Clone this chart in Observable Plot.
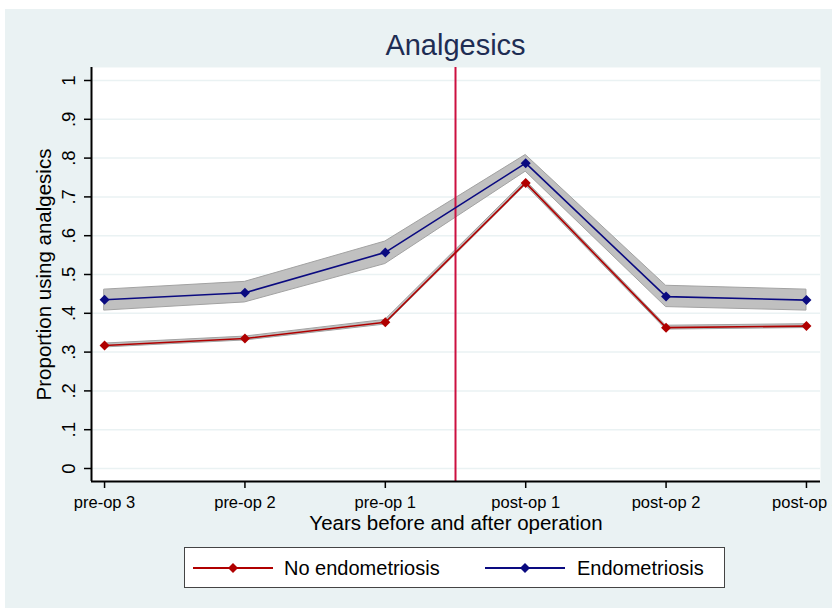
<!DOCTYPE html>
<html><head><meta charset="utf-8">
<script src="https://cdn.jsdelivr.net/npm/d3@7"></script>
<script src="https://cdn.jsdelivr.net/npm/@observablehq/plot@0.6"></script>
<style>
html,body{margin:0;padding:0;background:#fff;overflow:hidden;font-family:"Liberation Sans",Arial,sans-serif;}
#page{position:absolute;left:5px;top:9px;width:827px;height:599px;background:#eaf2f3;}
#chart{position:absolute;left:0;top:0;}
#title{position:absolute;left:0;width:911px;top:31px;text-align:center;font-size:29px;line-height:29px;color:#1e2d53;}
#legend{position:absolute;left:184px;top:547px;width:541px;height:41px;box-sizing:border-box;border:1px solid #444;background:#fff;}
#legend .sw{position:absolute;top:0;width:80px;height:39px;}
#legend .lab{position:absolute;top:10px;font-size:20px;line-height:20px;color:#000;white-space:nowrap;}
</style></head>
<body>
<div id="page"></div>
<div id="chart"></div>
<div id="title">Analgesics</div>
<div id="legend"></div>
<script>
const periods = ["pre-op 3","pre-op 2","pre-op 1","post-op 1","post-op 2","post-op 3"];
const xPos = [1,2,3,4,5,6];
const endoMean = [0.435,0.453,0.557,0.787,0.443,0.434];
const endoLow  = [0.407,0.428,0.527,0.765,0.416,0.407];
const endoHigh = [0.461,0.481,0.585,0.808,0.471,0.461];
const noMean = [0.317,0.335,0.377,0.736,0.363,0.367];
const noLow  = [0.312,0.330,0.371,0.730,0.358,0.362];
const noHigh = [0.322,0.340,0.383,0.742,0.368,0.372];
const yTicks = [0,0.1,0.2,0.3,0.4,0.5,0.6,0.7,0.8,0.9,1];
const yTickLabels = ["0",".1",".2",".3",".4",".5",".6",".7",".8",".9","1"];
const operationAt = [3.5];
const seriesNames = ["No endometriosis","Endometriosis"];
const seriesColors = ["#b00000","#0a0a80"];

const xDomain = [0.907, 6.1];
const yDomain = [-0.0335, 1.0335];
const band = "#c0c0c0", bandEdge = "#a2a2a2";

const chart = Plot.plot({
  width: 832, height: 608,
  marginLeft: 91, marginRight: 12, marginTop: 67, marginBottom: 127,
  style: {background: "transparent", fontFamily: "Liberation Sans, Arial, sans-serif", color: "#000"},
  x: {domain: xDomain},
  y: {domain: yDomain},
  marks: [
    Plot.frame({fill: "white", stroke: null}),
    Plot.gridY(yTicks, {stroke: "#eaf2f3", strokeOpacity: 1, strokeWidth: 1.5}),
    Plot.areaY(xPos, {x: d => d, y1: (d, i) => endoLow[i], y2: (d, i) => endoHigh[i], fill: band, stroke: bandEdge, strokeWidth: 1}),
    Plot.areaY(xPos, {x: d => d, y1: (d, i) => noLow[i], y2: (d, i) => noHigh[i], fill: band, stroke: bandEdge, strokeWidth: 1}),
    Plot.ruleX(operationAt, {stroke: "#cc1040", strokeWidth: 2}),
    Plot.line(xPos, {x: d => d, y: (d, i) => noMean[i], stroke: seriesColors[0], strokeWidth: 1.6}),
    Plot.line(xPos, {x: d => d, y: (d, i) => endoMean[i], stroke: seriesColors[1], strokeWidth: 1.6}),
    Plot.dot(xPos, {x: d => d, y: (d, i) => noMean[i], symbol: "diamond2", r: 4.5, fill: seriesColors[0], stroke: null}),
    Plot.dot(xPos, {x: d => d, y: (d, i) => endoMean[i], symbol: "diamond2", r: 4.5, fill: seriesColors[1], stroke: null}),
    Plot.ruleX([xDomain[0]], {stroke: "#000", strokeWidth: 2}),
    Plot.ruleY([yDomain[0]], {stroke: "#000", strokeWidth: 2}),
    Plot.axisY({ticks: yTicks, tickSize: 7, tickFormat: () => "", label: null, strokeWidth: 1.5}),
    Plot.text(yTicks, {y: d => d, text: (d, i) => yTickLabels[i], frameAnchor: "left", dx: -17, rotate: -90, textAnchor: "middle", lineAnchor: "bottom", fontSize: 18.5, fill: "#000"}),
    Plot.axisX({ticks: xPos, tickSize: 7, tickFormat: () => "", label: null, strokeWidth: 1.5}),
    Plot.text(xPos, {x: d => d, text: (d, i) => periods[i], frameAnchor: "bottom", dy: 26, lineAnchor: "bottom", fontSize: 16.5, fill: "#000"}),
    Plot.text(["Proportion using analgesics"], {frameAnchor: "left", dx: -41, rotate: -90, textAnchor: "middle", lineAnchor: "bottom", fontSize: 20.5, fill: "#000"}),
    Plot.text(["Years before and after operation"], {frameAnchor: "bottom", dy: 48, lineAnchor: "bottom", fontSize: 20.5, fill: "#000"})
  ]
});
document.getElementById("chart").appendChild(chart);

// legend
const legend = document.getElementById("legend");
const swLeft = [8, 300];
const labLeft = [99, 392];
seriesNames.forEach((name, i) => {
  const sw = document.createElementNS("http://www.w3.org/2000/svg", "svg");
  sw.setAttribute("class", "sw");
  sw.style.left = swLeft[i] + "px";
  sw.setAttribute("width", 80); sw.setAttribute("height", 39);
  sw.innerHTML = `<line x1="0" x2="80" y1="20" y2="20" stroke="${seriesColors[i]}" stroke-width="2"/>` +
    `<path d="M40,15L45,20L40,25L35,20Z" fill="${seriesColors[i]}"/>`;
  legend.appendChild(sw);
  const lab = document.createElement("div");
  lab.className = "lab";
  lab.style.left = labLeft[i] + "px";
  lab.textContent = name;
  legend.appendChild(lab);
});
</script>
</body></html>
